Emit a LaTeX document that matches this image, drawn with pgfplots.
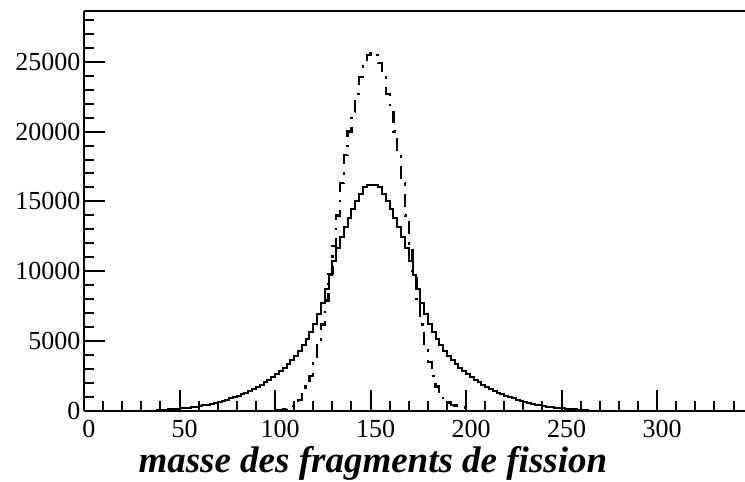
\documentclass[border=0pt]{standalone}
\usepackage{fontspec}
\setmainfont{Liberation Serif}
\usepackage{pgfplots}
\usepackage{pgfplotstable}
\pgfplotsset{compat=1.18}

% bin left edge, counts (bin width 2)
\pgfplotstableread{
x y
36 30
38 50
40 70
42 90
44 115
46 140
48 165
50 190
52 220
54 250
56 280
58 320
60 360
62 410
64 460
66 520
68 590
70 660
72 730
74 810
76 900
78 990
80 1090
82 1200
84 1320
86 1450
88 1580
90 1720
92 1880
94 2050
96 2250
98 2450
100 2650
102 2850
104 3100
106 3350
108 3650
110 3950
112 4300
114 4700
116 5150
118 5650
120 6250
122 6950
124 7750
126 8700
128 9750
130 10750
132 11650
134 12450
136 13150
138 13800
140 14450
142 15050
144 15550
146 16000
148 16150
150 16180
152 16150
154 16000
156 15550
158 15050
160 14450
162 13800
164 13150
166 12450
168 11650
170 10750
172 9750
174 8700
176 7750
178 6950
180 6250
182 5650
184 5150
186 4700
188 4300
190 3950
192 3650
194 3350
196 3100
198 2850
200 2650
202 2450
204 2250
206 2050
208 1880
210 1720
212 1580
214 1450
216 1320
218 1200
220 1090
222 990
224 900
226 810
228 730
230 660
232 590
234 520
236 460
238 410
240 360
242 320
244 280
246 250
248 220
250 190
252 165
254 140
256 115
258 90
260 70
262 50
264 30
266 0
}\large

\pgfplotstableread{
x y
100 40
102 90
104 150
106 230
108 350
110 550
112 800
114 1200
116 1750
118 2500
120 3500
122 4700
124 6200
126 7900
128 9800
130 11800
132 14000
134 16300
136 18300
138 20000
140 21400
142 22700
144 23900
146 24900
148 25500
150 25700
152 25500
154 24900
156 23900
158 22700
160 21400
162 20000
164 18300
166 16300
168 14000
170 11800
172 9800
174 7900
176 6200
178 4700
180 3500
182 2500
184 1750
186 1200
188 800
190 600
192 450
194 400
196 350
198 250
200 150
202 0
}\narrow

\begin{document}
\begin{tikzpicture}
\begin{axis}[
    name=ax,
    scale only axis,
    width=661pt, height=400pt,
    xmin=0, xmax=346, ymin=0, ymax=28630,
    axis x line*=bottom, axis y line*=left,
    axis line style={-, line width=2.5pt},
    xtick={0,50,...,350}, ytick={0,5000,...,30000},
    minor x tick num=4, minor y tick num=4,
    tick align=inside,
    major tick length=21pt, minor tick length=10pt,
    every tick/.append style={black, line width=2pt},
    scaled ticks=false,
    /pgf/number format/1000 sep=,
    /pgf/number format/assume math mode=true,
    tick label style={font=\fontsize{26}{30}\selectfont},
    xticklabel style={xshift=5pt, yshift=-6pt},
    xlabel={masse des fragments de fission},
    xlabel style={at={(rel axis cs:0.437,0)}, anchor=base, yshift=-62pt,
        font=\fontsize{37}{44}\selectfont\bfseries\itshape},
]
\addplot[const plot, black, line width=2pt] table {\large};
\addplot[const plot, black, line width=2.3pt,
    dash pattern=on 13pt off 8pt on 2.5pt off 8pt] table {\narrow};
\end{axis}
\draw[line width=2.5pt] (ax.north west) -- (ax.north east);
\pgfresetboundingbox
\path[use as bounding box] ([xshift=-84pt,yshift=-71pt]ax.south west)
    rectangle ([yshift=11pt]ax.north east);
\end{tikzpicture}
\end{document}
